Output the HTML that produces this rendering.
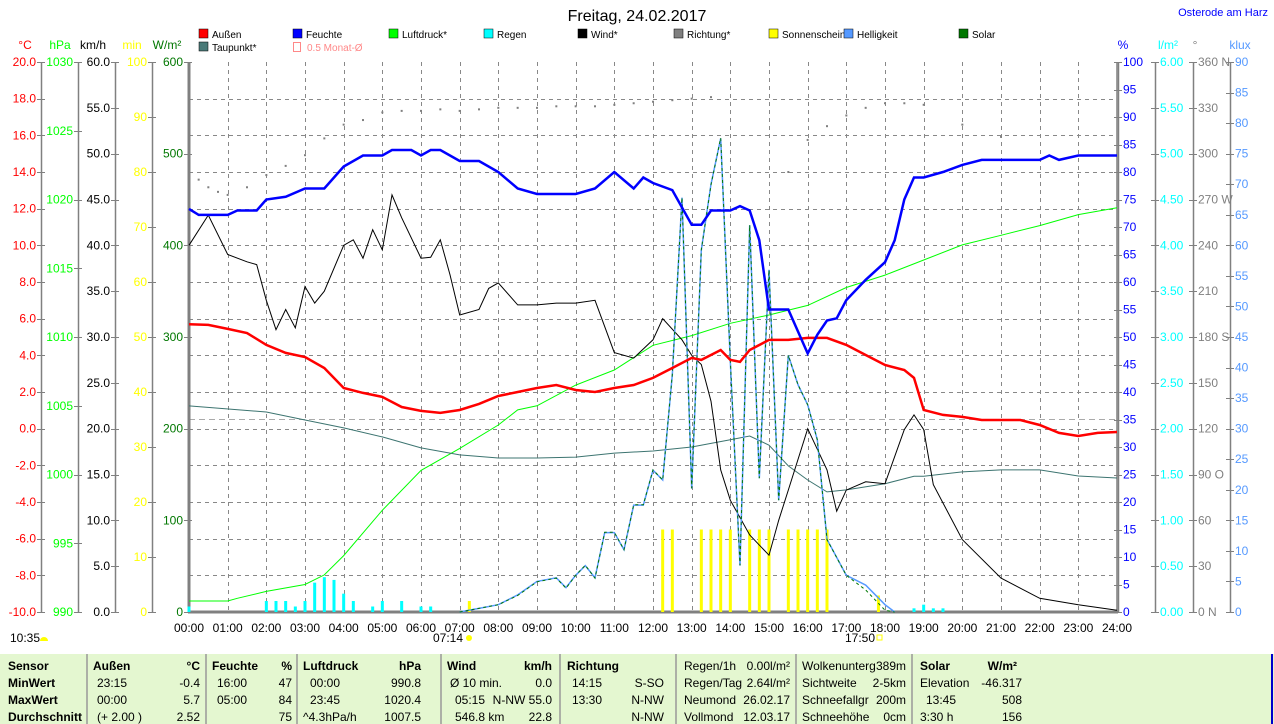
<!DOCTYPE html>
<html><head><meta charset="utf-8">
<style>
body{margin:0;background:#fff;width:1274px;height:724px;overflow:hidden;font-family:"Liberation Sans",sans-serif;}
svg{position:absolute;left:0;top:0}
#tbl{position:absolute;left:0;top:654px;width:1274px;height:70px;background:#e4f7d0;font-size:12px}
</style></head>
<body>
<svg id="chart" width="1274" height="654" font-family="Liberation Sans, sans-serif" font-size="12"></svg>
<svg id="tbl" width="1274" height="70" font-family="Liberation Sans, sans-serif" font-size="12"></svg>
<script>
// ---- data ----
const tempT=[0,0.5,1,1.5,2,2.5,3,3.5,4,4.5,5,5.5,6,6.5,7,7.5,8,8.5,9,9.5,10,10.5,11,11.5,12,12.5,13,13.25,13.75,14,14.25,14.5,15,15.5,16,16.5,17,17.5,18,18.5,18.75,19,19.5,20,20.5,21,21.5,22,22.5,23,23.5,24];
const tempV=[5.7,5.66,5.44,5.22,4.57,4.13,3.91,3.31,2.22,1.95,1.73,1.18,0.97,0.86,1.02,1.35,1.78,2.0,2.22,2.38,2.11,2.0,2.22,2.38,2.77,3.31,3.86,3.75,4.29,3.75,3.64,4.29,4.84,4.84,4.95,4.95,4.57,4.02,3.47,3.2,2.77,1.02,0.75,0.64,0.47,0.47,0.47,0.2,-0.23,-0.4,-0.23,-0.18];
const dewT=[0,2,3,4,5,6,7,8,9,10,11,12,13,14,14.5,15,15.5,16,16.5,17,18,18.75,19,20,21,22,23,24];
const dewV=[1.24,0.91,0.47,0.04,-0.45,-1.05,-1.43,-1.6,-1.6,-1.55,-1.33,-1.22,-1.0,-0.6,-0.4,-0.9,-2.03,-2.8,-3.45,-3.34,-3.0,-2.6,-2.6,-2.36,-2.25,-2.25,-2.58,-2.69];
const humT=[0,0.25,1,1.25,1.75,2,2.5,3,3.5,4,4.5,5,5.25,5.75,6,6.25,6.5,7,7.5,8,8.5,9,9.5,10,10.5,11,11.5,11.75,12,12.5,13,13.25,13.5,14,14.25,14.5,14.75,15,15.5,16,16.25,16.5,16.75,17,17.5,18,18.25,18.5,18.75,19,19.5,20,20.5,21,22,22.25,22.5,23,24];
const humV=[73.3,72.2,72.2,73,73,75,75.5,77,77,81,83,83,84,84,83,84,84,82,82,80,77,76,76,76,77,80,77,79,78,76.7,70.4,70.4,73,73,73.8,73,67.6,55,55,47,50.4,53,53.4,56.7,60.4,63.6,67.6,75,79,79,80,81.3,82.2,82.2,82.2,83,82.2,83,83];
const presT=[0,1,1.25,2,3,3.5,4,5,6,7,8,8.5,9,10,11,12,13,14,15,16,17,18,19,20,21,22,23,24];
const presV=[990.8,990.8,991,991.5,992,992.7,994.1,997.4,1000.3,1001.9,1003.6,1004.7,1005,1006.5,1007.6,1009.4,1010.1,1011,1011.6,1012.3,1013.6,1014.5,1015.6,1016.7,1017.4,1018.1,1018.9,1019.4];
const windT=[0,0.5,1,1.5,1.75,2,2.25,2.5,2.75,3,3.25,3.5,4,4.25,4.5,4.75,5,5.25,5.5,6,6.25,6.5,6.75,7,7.5,7.75,8,8.5,9,9.5,10,10.5,11,11.5,12,12.25,12.75,13,13.25,13.5,13.75,14,14.5,15,15.25,15.5,16,16.5,16.75,17,17.5,18,18.5,18.75,19,19.25,20,21,22,23,24];
const windV=[40,43.3,39,38.2,37.9,34,30.8,33,31,35.5,33.7,35,40,40.6,38.6,41.7,39.5,45.5,43,38.6,38.7,40.6,36.8,32.4,33,35.3,35.9,33.5,33.5,33.7,33.7,34,28.3,27.7,29.7,32,29.7,28,27,23,15.5,12.2,8.4,6.2,10,13.3,20,15.5,11,13.3,14.2,14,19.9,21.5,19.9,13.9,7.9,3.7,1.5,0.8,0.2];
const dirT=[0.25,0.5,0.75,1,1.5,2,2.5,3,3.5,4,4.5,5,5.5,6,6.5,7,7.5,8,8.5,9,9.5,10,10.5,11,11.5,12,12.5,13,13.5,15.5,16,16.5,17,17.5,18,18.5,19,20,21];
const dirV=[283,278,275,273,278,286,292,299,310,319,322,327,328,328,329,328,329,330,330,330,331,331,331,332,333,334,335,336,337,288,309,318,325,330,333,333,332,319,311];
const solT=[7,8,8.5,9,9.5,9.75,10,10.25,10.5,10.75,11,11.25,11.5,11.75,12,12.25,12.5,12.75,13,13.25,13.5,13.75,14,14.25,14.5,14.75,15,15.25,15.5,15.75,16,16.25,16.5,17,17.5,18,18.25];
const solV=[0,8,18,33,37,26,40,51,37,87,87,68,117,117,155,144,259,452,135,395,466,517,275,51,422,146,373,122,280,248,226,188,79,40,24,2,0];
const luxT=[7,8,8.5,9,9.5,9.75,10,10.25,10.5,10.75,11,11.25,11.5,11.75,12,12.25,12.5,12.75,13,13.25,13.5,13.75,14,14.25,14.5,14.75,15,15.25,15.5,15.75,16,16.25,16.5,17,17.5,18,18.25];
const luxV=[0,1.2,2.8,5,5.6,4,6,7.6,5.6,13,13,10.2,17.5,17.5,23.2,21.6,38.8,67.8,20.2,59.2,70,77.5,41,7.6,63.3,21.9,56,18.3,42,37.2,33.9,28.2,11.9,6,4.4,1.2,0];
const sunT=[7.25,12.25,12.5,13.25,13.5,13.75,14,14.5,14.75,15,15.5,15.75,16,16.25,16.5,17.83];
const sunV=[2,15,15,15,15,15,15,15,15,15,15,15,15,15,15,3];
const rainT=[0,2,2.25,2.5,2.75,3,3.25,3.5,3.75,4,4.25,4.75,5,5.5,6,6.25,13.5,18.75,19,19.25,19.5];
const rainV=[0.06,0.12,0.12,0.12,0.06,0.12,0.32,0.38,0.35,0.2,0.12,0.06,0.12,0.12,0.06,0.06,0.04,0.04,0.08,0.04,0.04];
const tempTicks=[20,18,16,14,12,10,8,6,4,2,0,-2,-4,-6,-8,-10];
const monthAvg=[0.5];

// ---- scales ----
const X0=189,X1=1117,Y0=62,Y1=612,H=Y1-Y0;
const xs=h=>X0+h*(X1-X0)/24;
const lin=(a,b)=>v=>Y1-(v-a)/(b-a)*H;
const yT=lin(-10,20),yP=lin(990,1030),yW=lin(0,60),yM=lin(0,100),yS=lin(0,600),yH=lin(0,100),yR=lin(0,6),yD=lin(0,360),yL=lin(0,90);
const NS='http://www.w3.org/2000/svg';
const svg=document.getElementById('chart');
function mk(tag,at,parent){const e=document.createElementNS(NS,tag);for(const k in at)e.setAttribute(k,at[k]);(parent||svg).appendChild(e);return e;}
function txt(x,y,s,fill,anchor,parent,size){const e=mk('text',{x:x,y:y,fill:fill||'#000','text-anchor':anchor||'start','font-size':size||12},parent);e.textContent=s;return e;}

// title
let t=txt(637,21,'Freitag, 24.02.2017','#000','middle',null,16);

t=txt(1268,16,'Osterode am Harz','#0000ff','end',null,11);


// legend
const leg=[['Außen','#f00',199,38],['Feuchte','#00f',293,38],['Luftdruck*','#0f0',389,38],['Regen','#0ff',484,38],['Wind*','#000',578,38],['Richtung*','#808080',674,38],['Sonnenschein','#ff0',769,38],['Helligkeit','#59f',844,38],['Solar','#070',959,38],['Taupunkt*','#4a7a78',199,51]];
leg.forEach(l=>{const g=mk('g',{});


mk('rect',{x:l[2],y:l[3]-9,width:9,height:9,fill:l[1],stroke:'#000','stroke-width':0.5},g);txt(l[2]+13,l[3],l[0],'#000','start',g,10);});
{const g=mk('g',{});
mk('rect',{x:293.5,y:42.5,width:7,height:9,fill:'none',stroke:'#f88'},g);txt(307,51,'0.5 Monat-Ø','#f88','start',g,10);}

// grid
const grid=mk('g',{stroke:'#888','stroke-dasharray':'4,4','stroke-width':1});

tempTicks.forEach(v=>{if(v>-10&&v<20)mk('line',{x1:X0,x2:X1,y1:Math.round(yT(v))+.5,y2:Math.round(yT(v))+.5},grid);});
for(let h=1;h<24;h++)mk('line',{x1:Math.round(xs(h))+.5,x2:Math.round(xs(h))+.5,y1:Y0,y2:Y1},grid);
let avg=mk('line',{x1:X0,x2:X1,y1:yT(monthAvg[0]),y2:yT(monthAvg[0]),stroke:'#aaa','stroke-dasharray':'6,4'});


// axes
function axis(x,ticks,fy,fmt,color,name,unit,ux){
 const g=mk('g',{});
 mk('line',{x1:x+.5,x2:x+.5,y1:Y0,y2:Y1,stroke:'#808080','stroke-width':1.5},g);
 ticks.forEach(v=>{const y=Math.round(fy(v))+.5;mk('line',{x1:x-4,x2:x+4,y1:y,y2:y,stroke:'#808080'},g);});
 ticks.forEach(v=>{txt(x-5,fy(v)+4,fmt(v),color,'end',g);});
 txt(ux,49,unit,color,'middle',g);return g;}
function raxis(x,ticks,fy,fmt,color,name,unit,ux){
 const g=mk('g',{});
 mk('line',{x1:x+.5,x2:x+.5,y1:Y0,y2:Y1,stroke:'#808080','stroke-width':1.5},g);
 ticks.forEach(v=>{const y=Math.round(fy(v))+.5;mk('line',{x1:x-4,x2:x+4,y1:y,y2:y,stroke:'#808080'},g);});
 ticks.forEach(v=>{txt(x+5,fy(v)+4,fmt(v),color,'start',g);});
 txt(ux,49,unit,color,'middle',g);return g;}
axis(41,tempTicks,yT,v=>v.toFixed(1),'#f00','temp-axis','°C',25);
axis(78,[1030,1025,1020,1015,1010,1005,1000,995,990],yP,v=>String(v),'#0f0','pressure-axis','hPa',60);
axis(115,[60,55,50,45,40,35,30,25,20,15,10,5,0],yW,v=>v.toFixed(1),'#000','wind-axis','km/h',93);
axis(152,[100,90,80,70,60,50,40,30,20,10,0],yM,v=>String(v),'#ff0','sunshine-axis','min',132);
axis(188,[600,500,400,300,200,100,0],yS,v=>String(v),'#070','solar-axis','W/m²',167);
raxis(1118,[100,95,90,85,80,75,70,65,60,55,50,45,40,35,30,25,20,15,10,5,0],yH,v=>String(v),'#00f','humidity-axis','%',1123);
raxis(1155,[6,5.5,5,4.5,4,3.5,3,2.5,2,1.5,1,0.5,0],yR,v=>v.toFixed(2),'#0ff','rain-axis','l/m²',1168);
const dl={360:'360 N',270:'270 W',180:'180 S',90:'90 O',0:'0 N'};
raxis(1193,[360,330,300,270,240,210,180,150,120,90,60,30,0],yD,v=>dl[v]||String(v),'#808080','direction-axis','°',1195);
raxis(1230,[90,85,80,75,70,65,60,55,50,45,40,35,30,25,20,15,10,5,0],yL,v=>String(v),'#59f','lux-axis','klux',1240);

// plot frame
mk('line',{x1:X0,x2:X0,y1:Y0,y2:Y1+1,stroke:'#808080','stroke-width':3});
mk('line',{x1:X0-1,x2:X1+1,y1:Y1,y2:Y1,stroke:'#808080','stroke-width':3});
mk('line',{x1:X1,x2:X1,y1:Y0,y2:Y1,stroke:'#808080','stroke-width':1.5});
// x labels
const xl=mk('g',{});
for(let h=0;h<=24;h++)txt(xs(h),632,(h<10?'0':'')+h+':00','#000','middle',xl);
txt(448,642,'07:14','#000','middle',xl);mk('circle',{cx:469,cy:638,r:3,fill:'#ff0'});
txt(860,642,'17:50','#000','middle',xl);mk('rect',{x:877,y:635,width:5,height:5,fill:'none',stroke:'#ff0'});
txt(10,642,'10:35','#000','start',xl);mk('path',{d:'M40 641 a4 4 0 0 1 8 0z',fill:'#ff0'});

// bars
function bars(T,V,fy,color,w,name){T.forEach((h,i)=>{const y=fy(V[i]);const r=mk('rect',{x:xs(h)-w/2,y:y,width:w,height:Y1-y,fill:color});
});}
bars(rainT,rainV,yR,'#0ff',3,'rain-bar');
bars(sunT,sunV,yM,'#ff0',3,'sunshine-bar');
// line series
function line(T,V,fy,color,w,name,dash){const d=T.map((h,i)=>(i?'L':'M')+xs(h).toFixed(1)+' '+fy(V[i]).toFixed(1)).join('');
const p=mk('path',{d:d,fill:'none',stroke:color,'stroke-width':w});if(dash)p.setAttribute('stroke-dasharray',dash);
}
line(presT,presV,yP,'#0f0',1,'pressure-line');
line(dewT,dewV,yT,'#3c7470',1,'dewpoint-line');
line(windT,windV,yW,'#000',1,'wind-line');
line(luxT,luxV,yL,'#59f',1.5,'brightness-line');
line(solT,solV,yS,'#070',1,'solar-line','3,3');
line(tempT,tempV,yT,'#f00',2.5,'temperature-line');
line(humT,humV,yH,'#00f',2.5,'humidity-line');
dirT.forEach((h,i)=>{const r=mk('rect',{x:xs(h)-1,y:yD(dirV[i])-1,width:2,height:2,fill:'#808080'});
});

// table
const tb=document.getElementById('tbl');
const rows=[
 [['Sensor',8,1],['Außen',93,1],['°C',200,1,'end'],['Feuchte',212,1],['%',292,1,'end'],['Luftdruck',303,1],['hPa',421,1,'end'],['Wind',447,1],['km/h',552,1,'end'],['Richtung',567,1],['Regen/1h',684],['0.00l/m²',790,0,'end'],['Wolkenunterg',802],['389m',906,0,'end'],['Solar',920,1],['W/m²',1017,1,'end']],
 [['MinWert',8,1],['23:15',97],['-0.4',200,0,'end'],['16:00',217],['47',292,0,'end'],['00:00',310],['990.8',421,0,'end'],['Ø 10 min.',450],['0.0',552,0,'end'],['14:15',572],['S-SO',664,0,'end'],['Regen/Tag',684],['2.64l/m²',790,0,'end'],['Sichtweite',802],['2-5km',906,0,'end'],['Elevation',920],['-46.317',1022,0,'end']],
 [['MaxWert',8,1],['00:00',97],['5.7',200,0,'end'],['05:00',217],['84',292,0,'end'],['23:45',310],['1020.4',421,0,'end'],['05:15',455],['N-NW 55.0',552,0,'end'],['13:30',572],['N-NW',664,0,'end'],['Neumond',684],['26.02.17',790,0,'end'],['Schneefallgr',802],['200m',906,0,'end'],['13:45',926],['508',1022,0,'end']],
 [['Durchschnitt',8,1],['(+ 2.00 )',97],['2.52',200,0,'end'],['75',292,0,'end'],['^4.3hPa/h',303],['1007.5',421,0,'end'],['546.8 km',455],['22.8',552,0,'end'],['N-NW',664,0,'end'],['Vollmond',684],['12.03.17',790,0,'end'],['Schneehöhe',802],['0cm',906,0,'end'],['3:30 h',920],['156',1022,0,'end']]];
rows.forEach((r,i)=>r.forEach(c=>{const e=txt(c[1],16+i*17,c[0],'#000',c[3]||'start',tb);if(c[2])e.setAttribute('font-weight','bold');}));
[87,206,297,441,560,676,796,912].forEach(x=>mk('line',{x1:x,x2:x,y1:0,y2:70,stroke:'#999','stroke-width':1.5},tb));
mk('line',{x1:1272,x2:1272,y1:0,y2:70,stroke:'#00c','stroke-width':2},tb);
</script>
</body></html>
